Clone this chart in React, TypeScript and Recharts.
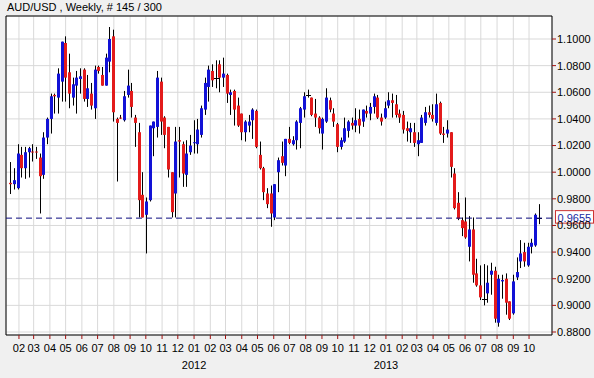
import React from "react";
import {
  ComposedChart,
  Bar,
  XAxis,
  YAxis,
  CartesianGrid,
  ReferenceLine,
} from "recharts";

// weekly AUD/USD candles, oldest first (week of 17 Jan 2011 .. week of 21 Oct 2013)
const opens = [
  0.992, 0.991, 0.988, 1.013, 1.003, 1.015, 1.0155, 1.0155, 1.011, 0.998,
  1.026, 1.04, 1.058, 1.056, 1.068, 1.097, 1.075, 1.056, 1.065, 1.07,
  1.077, 1.055, 1.059, 1.048, 1.079, 1.073, 1.065, 1.083, 1.102, 1.04,
  1.041, 1.039, 1.058, 1.061, 1.041, 1.03, 0.983, 0.968, 0.979, 1.033,
  1.034, 1.068, 1.041, 1.034, 1.0, 0.984, 1.024, 1.021, 0.998, 1.015,
  1.022, 1.021, 1.028, 1.047, 1.064, 1.076, 1.071, 1.081, 1.071, 1.073,
  1.058, 1.061, 1.05, 1.044, 1.03, 1.035, 1.039, 1.046, 1.013, 1.003,
  0.984, 0.984, 0.966, 1.0, 1.012, 1.005, 1.025, 1.021, 1.024, 1.037,
  1.047, 1.058, 1.056, 1.044, 1.041, 1.029, 1.038, 1.054, 1.044, 1.036,
  1.019, 1.023, 1.031, 1.037, 1.035, 1.04, 1.038, 1.046, 1.044, 1.049,
  1.056, 1.041, 1.041, 1.05, 1.054, 1.051, 1.044, 1.043, 1.033, 1.03,
  1.03, 1.021, 1.022, 1.037, 1.045, 1.043, 1.037, 1.052, 1.029, 1.029,
  1.03, 0.999, 0.977, 0.964, 0.963, 0.944, 0.957, 0.924, 0.915, 0.905,
  0.909, 0.923, 0.926, 0.887, 0.918, 0.92, 0.903, 0.894, 0.921, 0.933,
  0.94, 0.93, 0.944, 0.945, 0.9655,
];
const highs = [
  1.0076, 1.003, 1.021, 1.019, 1.019, 1.019, 1.021, 1.019, 1.014, 1.03,
  1.041, 1.059, 1.059, 1.078, 1.098, 1.102, 1.089, 1.071, 1.076, 1.078,
  1.078, 1.073, 1.067, 1.08, 1.08, 1.079, 1.089, 1.109, 1.107, 1.041,
  1.043, 1.061, 1.077, 1.067, 1.043, 1.037, 1.0, 0.981, 1.035, 1.038,
  1.076, 1.071, 1.042, 1.034, 1.0, 1.034, 1.034, 1.023, 1.024, 1.028,
  1.039, 1.04, 1.05, 1.071, 1.08, 1.081, 1.084, 1.084, 1.086, 1.074,
  1.062, 1.062, 1.056, 1.044, 1.039, 1.043, 1.048, 1.047, 1.023, 1.004,
  0.988, 0.99, 0.991, 1.011, 1.023, 1.025, 1.034, 1.027, 1.039, 1.049,
  1.06, 1.062, 1.056, 1.055, 1.042, 1.041, 1.063, 1.056, 1.048, 1.037,
  1.026, 1.041, 1.039, 1.041, 1.048, 1.047, 1.047, 1.05, 1.052, 1.059,
  1.058, 1.044, 1.053, 1.06, 1.059, 1.058, 1.047, 1.046, 1.038, 1.037,
  1.037, 1.03, 1.043, 1.049, 1.05, 1.051, 1.059, 1.053, 1.034, 1.039,
  1.03, 1.003, 0.985, 0.966, 0.981, 0.967, 0.966, 0.935, 0.93, 0.931,
  0.93, 0.932, 0.929, 0.923, 0.923, 0.924, 0.903, 0.923, 0.936, 0.949,
  0.947, 0.947, 0.95, 0.969, 0.976,
];
const lows = [
  0.9836, 0.987, 0.987, 0.996, 0.995, 0.996, 1.008, 1.01, 0.969, 0.995,
  1.021, 1.029, 1.044, 1.044, 1.053, 1.053, 1.048, 1.05, 1.044, 1.059,
  1.053, 1.049, 1.047, 1.04, 1.074, 1.065, 1.065, 1.075, 1.038, 0.993,
  1.04, 1.038, 1.056, 1.041, 1.019, 0.966, 0.966, 0.939, 0.978, 1.012,
  1.026, 1.028, 1.018, 0.996, 0.966, 0.966, 0.996, 0.989, 0.989, 1.013,
  1.014, 1.014, 1.026, 1.043, 1.053, 1.064, 1.063, 1.06, 1.064, 1.052,
  1.043, 1.035, 1.034, 1.024, 1.023, 1.03, 1.025, 1.018, 1.002, 0.979,
  0.973, 0.959, 0.964, 0.985, 1.005, 0.997, 1.021, 1.02, 1.017, 1.018,
  1.041, 1.056, 1.042, 1.034, 1.029, 1.017, 1.037, 1.045, 1.034, 1.015,
  1.017, 1.022, 1.026, 1.032, 1.03, 1.029, 1.034, 1.041, 1.039, 1.044,
  1.04, 1.035, 1.04, 1.048, 1.041, 1.041, 1.037, 1.029, 1.023, 1.022,
  1.019, 1.012, 1.022, 1.035, 1.041, 1.038, 1.035, 1.028, 1.022, 1.026,
  0.996, 0.972, 0.964, 0.952, 0.95, 0.933, 0.917, 0.914, 0.904, 0.9,
  0.902, 0.908, 0.887, 0.884, 0.905, 0.893, 0.889, 0.893, 0.919, 0.928,
  0.929, 0.929, 0.939, 0.944, 0.961,
];
const closes = [
  0.991, 0.994, 1.014, 1.003, 1.015, 1.018, 1.015, 1.015, 0.997, 1.026,
  1.04, 1.057, 1.057, 1.074, 1.098, 1.071, 1.059, 1.066, 1.071, 1.072,
  1.055, 1.063, 1.05, 1.077, 1.076, 1.065, 1.086, 1.1, 1.045, 1.037,
  1.0405, 1.057, 1.065, 1.049, 1.037, 0.979, 0.966, 0.978, 1.035, 1.038,
  1.071, 1.038, 1.028, 1.002, 0.97, 1.023, 1.023, 0.999, 1.014, 1.02,
  1.0225, 1.032, 1.048, 1.067, 1.077, 1.069, 1.071, 1.071, 1.074, 1.059,
  1.06, 1.047, 1.035, 1.03, 1.038, 1.038, 1.047, 1.019, 1.003, 0.985,
  0.976, 0.969, 0.991, 1.009, 1.007, 1.025, 1.022, 1.024, 1.038, 1.048,
  1.057, 1.058, 1.043, 1.041, 1.033, 1.04, 1.056, 1.047, 1.038, 1.019,
  1.024, 1.033, 1.038, 1.035, 1.039, 1.035, 1.047, 1.044, 1.049, 1.057,
  1.041, 1.038, 1.048, 1.054, 1.052, 1.043, 1.041, 1.032, 1.031, 1.033,
  1.022, 1.024, 1.041, 1.045, 1.043, 1.04, 1.051, 1.029, 1.028, 1.032,
  1.004, 0.973, 0.965, 0.958, 0.951, 0.957, 0.923, 0.915, 0.906, 0.905,
  0.917, 0.926, 0.89, 0.92, 0.919, 0.902, 0.89, 0.918, 0.925, 0.939,
  0.933, 0.944, 0.947, 0.968, 0.9655,
];

const monthLabels = [
  "02", "03", "04", "05", "06", "07", "08", "09", "10", "11", "12",
  "01", "02", "03", "04", "05", "06", "07", "08", "09", "10", "11", "12",
  "01", "02", "03", "04", "05", "06", "07", "08", "09", "10",
];
const yearLabels: Record<number, string> = { 11: "2012", 23: "2013" };
const priceTicks = [0.88, 0.9, 0.92, 0.94, 0.96, 0.98, 1.0, 1.02, 1.04, 1.06, 1.08, 1.1];
const lastPrice = 0.9655;

const WEEK = 7 * 24 * 3600 * 1000;
const firstWeek = Date.UTC(2011, 0, 17);
// month starts expressed in week-index units
const monthTicks = monthLabels.map((_, k) => (Date.UTC(2011, 1 + k, 1) - firstWeek) / WEEK);

const data = closes.map((c, i) => ({
  i,
  o: opens[i],
  h: highs[i],
  l: lows[i],
  c,
  range: [lows[i], highs[i]],
}));

const FONT = "'Liberation Sans', Arial, sans-serif";
const UP = "#1212d6";
const DOWN = "#e31b1b";

const Candle = (props: any) => {
  const { x, y, width, height, payload } = props;
  const { o, c, h, l } = payload;
  const span = h - l || 1e-9;
  const py = (v: number) => y + ((h - v) / span) * height;
  const left = Math.round(x + width / 2 - 1.5);
  const mid = left + 1.5;
  if (o === c) {
    const yy = Math.round(py(o)) + 0.5;
    return (
      <g>
        <line x1={mid} x2={mid} y1={y} y2={y + height} stroke="#000" />
        <line x1={left - 1} x2={left + 4} y1={yy} y2={yy} stroke="#000" />
      </g>
    );
  }
  const top = py(Math.max(o, c));
  const bot = py(Math.min(o, c));
  return (
    <g>
      <line x1={mid} x2={mid} y1={y} y2={y + height} stroke="#000" />
      <rect x={left} y={top} width={3} height={Math.max(1, bot - top)} fill={c > o ? UP : DOWN} />
    </g>
  );
};

const MonthTick = (props: any) => {
  const { x, y, payload } = props;
  const k = payload.index;
  return (
    <g>
      <text x={x} y={y + 11} textAnchor="middle" fontSize={11} fontFamily={FONT} fill="#000">
        {monthLabels[k]}
      </text>
      {yearLabels[k] && (
        <text x={x} y={y + 28} textAnchor="middle" fontSize={11} fontFamily={FONT} fill="#000">
          {yearLabels[k]}
        </text>
      )}
    </g>
  );
};

const PriceTag = (props: any) => {
  const { viewBox } = props;
  const bx = viewBox.x + viewBox.width + 3.5;
  const by = viewBox.y - 7.5;
  return (
    <g>
      <rect x={bx} y={by} width={38} height={12.5} fill="#fff" stroke="#cc3333" />
      <text x={bx + 2} y={viewBox.y + 3.5} fontSize={11} fontFamily={FONT} fill="#1a2aa0">
        {lastPrice.toFixed(4)}
      </text>
    </g>
  );
};

export default function App() {
  const xDomain = [-1.39, 147.4];
  const yDomain = [0.87775, 1.11727];
  return (
    <div
      style={{
        position: "absolute",
        left: 0,
        top: 0,
        width: 594,
        height: 378,
        background: "#f0f0f0",
        fontFamily: FONT,
      }}
    >
      <div style={{ position: "absolute", left: 7, top: 1, fontSize: 11, color: "#000" }}>
        AUD/USD , Weekly, # 145 / 300
      </div>
      <ComposedChart
        width={594}
        height={378}
        data={data}
        margin={{ top: 16, right: 0, bottom: 0, left: 6 }}
      >
        <CartesianGrid stroke="#d9d9d9" fill="#fff" />
        <XAxis
          type="number"
          dataKey="i"
          domain={xDomain}
          allowDataOverflow
          ticks={monthTicks}
          interval={0}
          height={43}
          tickSize={4}
          tickMargin={2}
          axisLine={{ stroke: "#000" }}
          tickLine={{ stroke: "#a01010" }}
          tick={<MonthTick />}
        />
        <YAxis
          orientation="right"
          type="number"
          domain={yDomain}
          allowDataOverflow
          ticks={priceTicks}
          interval={0}
          width={42}
          tickSize={4}
          tickMargin={1}
          axisLine={{ stroke: "#000" }}
          tickLine={{ stroke: "#a01010" }}
          tickFormatter={(v: number) => v.toFixed(4)}
          tick={{ fill: "#000", fontSize: 11, fontFamily: FONT }}
        />
        <ReferenceLine x={xDomain[0]} stroke="#000" />
        <ReferenceLine y={yDomain[1]} stroke="#000" />
        <Bar dataKey="range" barSize={3} shape={<Candle />} isAnimationActive={false} />
        <ReferenceLine
          y={lastPrice}
          stroke="#0c0c80"
          strokeDasharray="6 4"
          label={(p: any) => <PriceTag {...p} />}
        />
      </ComposedChart>
    </div>
  );
}
